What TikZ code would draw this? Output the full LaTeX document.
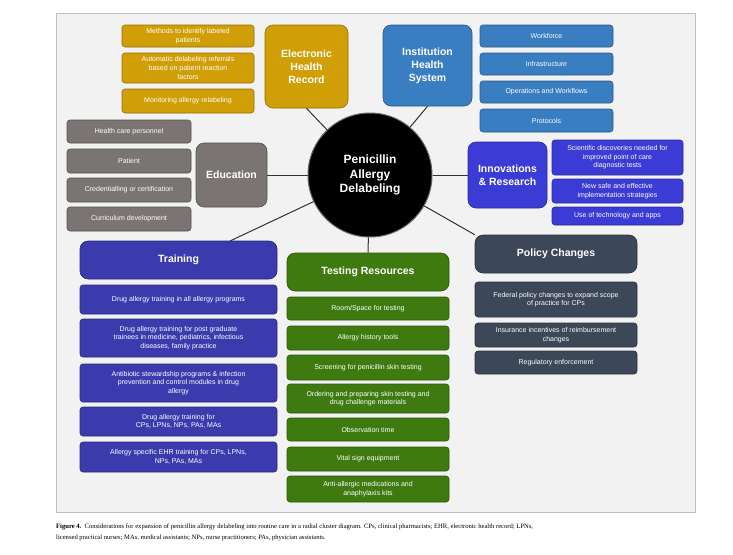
\documentclass[tikz,border=0pt]{standalone}
\usepackage{fontspec}
\setmainfont{Liberation Sans}
\newfontfamily\capfont{Liberation Serif}
\begin{document}
\begin{tikzpicture}[x=1pt,y=1pt,
 box/.style={draw=#1!70!black,fill=#1,rounded corners=3pt,text=white,align=center,inner sep=1pt,font=\fontsize{7}{8.6}\selectfont,line width=0.6pt},
 big/.style={box=#1,rounded corners=8pt,font=\bfseries\fontsize{10.5}{13}\selectfont},
 link/.style={draw=black!80,line width=1pt}]
\definecolor{gold}{HTML}{D09E06}
\definecolor{iblue}{HTML}{3A7EC2}
\definecolor{indig}{HTML}{3B3BD6}
\definecolor{slate}{HTML}{3C4757}
\definecolor{egray}{HTML}{7A7573}
\definecolor{tblue}{HTML}{3B3BAE}
\definecolor{tgreen}{HTML}{3F7A10}
\newcommand\bx[7]{\node[#6, minimum width={(#4-#2)*1pt}, minimum height={(#5-#3)*1pt}] (#1) at ({(#2+#4)/2},{-(#3+#5)/2}) {#7};}
\useasboundingbox (0,0) rectangle (733,-554);
\fill[white] (0,0) rectangle (733,-554);
\draw[black!25,fill=black!5,line width=1pt] (56,-13) rectangle (695,-512);
% center
\node[circle,fill=black,draw=black!60,line width=1pt,minimum size=124pt,text=white,align=center,font=\bfseries\fontsize{12}{14.5}\selectfont] (c) at (370,-175) {Penicillin\\Allergy\\Delabeling};
% EHR
\bx{ehr}{265}{25}{348}{108}{big=gold}{Electronic\\Health\\Record}
\bx{e1}{122}{25}{254}{47}{box=gold}{Methods to identify labeled\\patients}
\bx{e2}{122}{53}{254}{83}{box=gold}{Automatic delabeling referrals\\based on patient reaction\\factors}
\bx{e3}{122}{89}{254}{113}{box=gold}{Monitoring allergy relabeling}
% Institution
\bx{ihs}{383}{25}{472}{106}{big=iblue}{Institution\\Health\\System}
\bx{i1}{480}{25}{613}{47}{box=iblue}{Workforce}
\bx{i2}{480}{53}{613}{75}{box=iblue}{Infrastructure}
\bx{i3}{480}{81}{613}{103}{box=iblue}{Operations and Workflows}
\bx{i4}{480}{109}{613}{132}{box=iblue}{Protocols}
% Innovations
\bx{inn}{468}{142}{547}{208}{big=indig}{Innovations\\\& Research}
\bx{n1}{552}{140}{683}{175}{box=indig}{Scientific discoveries needed for\\improved point of care\\diagnostic tests}
\bx{n2}{552}{179}{683}{203}{box=indig}{New safe and effective\\implementation strategies}
\bx{n3}{552}{207}{683}{225}{box=indig}{Use of technology and apps}
% Policy
\bx{pol}{475}{235}{637}{273}{big=slate}{Policy Changes}
\bx{p1}{475}{282}{637}{317}{box=slate}{Federal policy changes to expand scope\\of practice for CPs}
\bx{p2}{475}{323}{637}{347}{box=slate}{Insurance incentives of reimbursement\\changes}
\bx{p3}{475}{351}{637}{374}{box=slate}{Regulatory enforcement}
% Education
\bx{edu}{196}{143}{267}{207}{big=egray}{Education}
\bx{d1}{67}{120}{191}{143}{box=egray}{Health care personnel}
\bx{d2}{67}{149}{191}{173}{box=egray}{Patient}
\bx{d3}{67}{178}{191}{202}{box=egray}{Credentialling or certification}
\bx{d4}{67}{207}{191}{231}{box=egray}{Curriculum development}
% Training
\bx{tr}{80}{241}{277}{279}{big=tblue}{Training}
\bx{t1}{80}{285}{277}{314}{box=tblue}{Drug allergy training in all allergy programs}
\bx{t2}{80}{319}{277}{357}{box=tblue}{Drug allergy training for post graduate\\trainees in medicine, pediatrics, infectious\\diseases, family practice}
\bx{t3}{80}{364}{277}{402}{box=tblue}{Antibiotic stewardship programs \& infection\\prevention and control modules in drug\\allergy}
\bx{t4}{80}{407}{277}{436}{box=tblue}{Drug allergy training for\\CPs, LPNs, NPs, PAs, MAs}
\bx{t5}{80}{442}{277}{472}{box=tblue}{Allergy specific EHR training for CPs, LPNs,\\NPs, PAs, MAs}
% Testing
\bx{ts}{287}{253}{449}{291}{big=tgreen}{Testing Resources}
\bx{g1}{287}{297}{449}{320}{box=tgreen}{Room/Space for testing}
\bx{g2}{287}{326}{449}{350}{box=tgreen}{Allergy history tools}
\bx{g3}{287}{355}{449}{380}{box=tgreen}{Screening for penicillin skin testing}
\bx{g4}{287}{384}{449}{413}{box=tgreen}{Ordering and preparing skin testing and\\drug challenge materials}
\bx{g5}{287}{418}{449}{441}{box=tgreen}{Observation time}
\bx{g6}{287}{447}{449}{471}{box=tgreen}{Vital sign equipment}
\bx{g7}{287}{476}{449}{502}{box=tgreen}{Anti-allergic medications and\\anaphylaxis kits}
% links
\coordinate (trtop) at (230,-241);
\path[link] (c) -- (ehr.south);
\path[link] (c) -- (ihs.south);
\path[link] (c) -- (edu.east);
\path[link] (c) -- (inn.west);
\path[link] (c) -- (pol.north west);
\path[link] (c) -- (trtop);
\path[link] (c) -- (ts.north);
% caption
\node[anchor=north west,inner sep=0pt,align=left,font=\capfont\fontsize{6.6}{11}\selectfont] (cap) at (56,-524) {\textbf{Figure 4.}\hspace{0.5em}Considerations for expansion of penicillin allergy delabeling into routine care in a radial cluster diagram. CPs, clinical pharmacists; EHR, electronic health record; LPNs,\\licensed practical nurses; MAs, medical assistants; NPs, nurse practitioners; PAs, physician assistants.};
\end{tikzpicture}
\end{document}
